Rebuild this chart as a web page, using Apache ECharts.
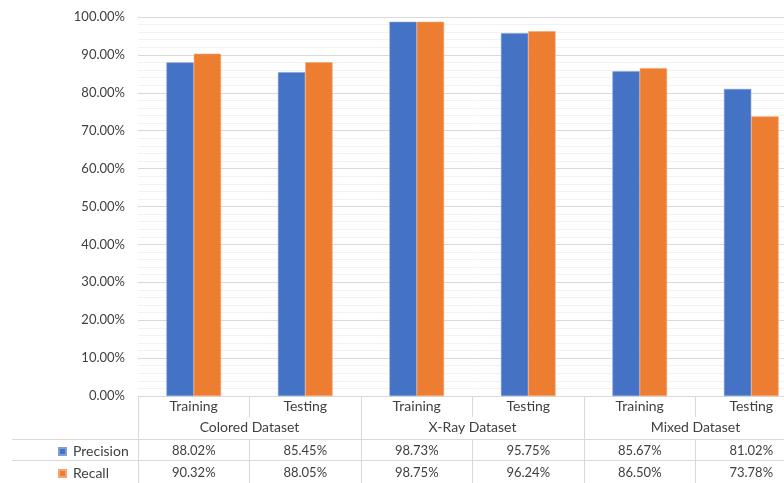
<!DOCTYPE html>
<html>
<head>
<meta charset="utf-8">
<script src="https://cdn.jsdelivr.net/npm/echarts@6/dist/echarts.min.js"></script>
<style>
  html, body { margin: 0; padding: 0; background: #fff; overflow: hidden; width: 784px; height: 483px; }
  #chart { width: 810px; height: 483px; }
</style>
</head>
<body>
<div id="chart"></div>
<script>
// Category labels (two-level) and metric values in percent
const phases = ['Training', 'Testing', 'Training', 'Testing', 'Training', 'Testing'];
const datasets = ['Colored Dataset', 'X-Ray Dataset', 'Mixed Dataset'];
const precision = [88.02, 85.45, 98.73, 95.75, 85.67, 81.02];
const recall = [90.32, 88.05, 98.75, 96.24, 86.50, 73.78];
const seriesNames = ['Precision', 'Recall'];

const FONT = 'Lato';
const TEXT = '#404040';
const LINE = '#d9d9d9';
const fmt = v => v.toFixed(2) + '%';

const chart = echarts.init(document.getElementById('chart'), null, { renderer: 'canvas' });

// table axis helper: a category axis placed below the plot, used as a data-table row
function tableAxis(data, offset, tickLen, margin, showLine, fontSize) {
  return {
    type: 'category',
    data: data,
    position: 'bottom',
    offset: offset,
    gridIndex: 0,
    axisLine: { show: showLine, lineStyle: { color: LINE, width: 1 } },
    axisTick: { show: true, inside: false, length: tickLen, interval: 0, lineStyle: { color: LINE, width: 1 } },
    axisLabel: { interval: 0, margin: margin, color: TEXT, fontFamily: FONT, fontSize: fontSize },
    splitLine: { show: false }
  };
}

function legendRow(name, top) {
  return {
    data: [name],
    left: 58,
    top: top,
    padding: 0,
    icon: 'rect',
    itemWidth: 7,
    itemHeight: 7,
    textStyle: { color: TEXT, fontFamily: FONT, fontSize: 14, lineHeight: 15, padding: [0, 0, 0, 2] }
  };
}

chart.setOption({
  animation: false,
  backgroundColor: '#fff',
  textStyle: { fontFamily: FONT },
  grid: { left: 138, right: 3, top: 17, bottom: 87, containLabel: false },
  legend: [legendRow(seriesNames[0], 444), legendRow(seriesNames[1], 466)],
  xAxis: [
    tableAxis(phases, 0, 21, 3, true, 14),
    tableAxis(datasets, 0, 87, 24, false, 14),
    tableAxis(precision.map(fmt), 43, 21, 5, true, 13),
    tableAxis(recall.map(fmt), 64, 23, 6, true, 13)
  ],
  yAxis: {
    type: 'value',
    min: 0,
    max: 100,
    interval: 10,
    splitNumber: 10,
    axisLine: { show: false },
    axisTick: { show: false },
    axisLabel: { formatter: v => v.toFixed(2) + '%', color: TEXT, fontFamily: FONT, fontSize: 13, margin: 13 },
    splitLine: { show: true, lineStyle: { color: LINE, width: 1 } },
    minorTick: { show: false, splitNumber: 5 },
    minorSplitLine: { show: true, lineStyle: { color: '#f2f2f2', width: 1 } }
  },
  series: [
    {
      name: seriesNames[0],
      type: 'bar',
      xAxisIndex: 0,
      data: precision,
      barCategoryGap: '51%',
      barGap: '0%',
      itemStyle: { color: '#4472C4', borderColor: '#7f9ed8', borderWidth: 0.6 }
    },
    {
      name: seriesNames[1],
      type: 'bar',
      xAxisIndex: 0,
      data: recall,
      barCategoryGap: '51%',
      barGap: '0%',
      itemStyle: { color: '#ED7D31', borderColor: '#f4a46e', borderWidth: 0.6 }
    }
  ],
  graphic: [
    // row separators extending under the legend column
    { type: 'line', shape: { x1: 12, y1: 439.5, x2: 138, y2: 439.5 }, style: { stroke: LINE, lineWidth: 1 }, silent: true },
    { type: 'line', shape: { x1: 12, y1: 460.5, x2: 138, y2: 460.5 }, style: { stroke: LINE, lineWidth: 1 }, silent: true }
  ]
});
</script>
</body>
</html>
